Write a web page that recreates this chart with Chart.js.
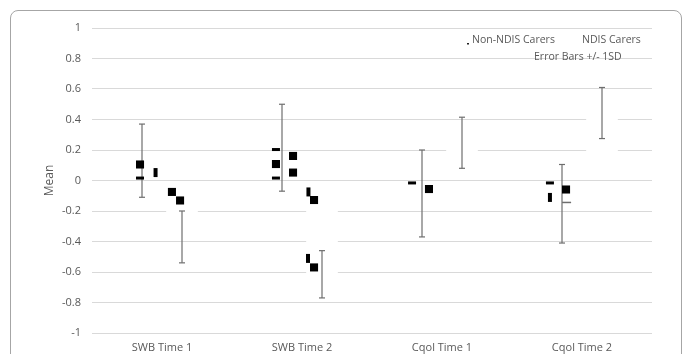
<!DOCTYPE html>
<html>
<head>
<meta charset="utf-8">
<script src="https://cdn.jsdelivr.net/npm/chart.js@4.4.1/dist/chart.umd.min.js"></script>
<style>
  body { margin: 0; background: #fff; }
  #wrap { position: relative; width: 683px; height: 354px; overflow: hidden; }
  #frame { position: absolute; left: 10px; top: 10px; width: 670px; height: 400px; border: 1px solid #a6a6a6; border-radius: 8px; }
  canvas { position: absolute; left: 0; top: 0; }
</style>
</head>
<body>
<div id="wrap"><div id="frame"></div><canvas id="myChart" width="683" height="354"></canvas></div>
<script>
// categories on the x axis
var categories = ['SWB Time 1', 'SWB Time 2', 'Cqol Time 1', 'Cqol Time 2']

// group means and SD (error bars +/- 1SD)
var nonNdisMean = [0.13, 0.215, -0.085, -0.1525]
var nonNdisSD = [0.24, 0.285, 0.285, 0.2575]
var ndisMean = [-0.37, -0.615, 0.2475, 0.4425]
var ndisSD = [0.17, 0.155, 0.1675, 0.1675]

// white marker boxes of the NDIS group (low / high)
var ndisBoxLow = [-0.3, -0.64, 0.13, 0.16]
var ndisBoxHigh = [-0.15, -0.16, 0.29, 0.45]

// black marker pieces (x in category units, y = mean value)
var squareX = [0.343, 0.571, 0.629, 1.314, 1.436, 1.436, 1.586, 1.586, 2.407, 3.386]
var squareY = [0.105, -0.075, -0.131, 0.108, 0.161, 0.052, -0.128, -0.570, -0.056, -0.059]
var dashX = [0.343, 1.314, 1.314, 2.286, 3.271]
var dashY = [0.016, 0.203, 0.016, -0.016, -0.016]
var tickX = [0.454, 1.546, 1.543, 3.271]
var tickY = [0.052, -0.075, -0.511, -0.111]
var greyX = [3.39]
var greyY = [-0.144]

var groupOffset = 1 / 7
var grey = '#595959'
var barGrey = '#6e6e6e'

function pts(xs, ys) {
  return xs.map(function (x, k) { return { x: x, y: ys[k] } })
}

var datasets = []

datasets.push({
  type: 'bar',
  data: categories.map(function (c, i) {
    return { x: i + 0.5 + groupOffset, y: [ndisBoxLow[i], ndisBoxHigh[i]] }
  }),
  backgroundColor: '#ffffff',
  borderWidth: 0,
  barThickness: 31,
  order: 3
})

categories.forEach(function (c, i) {
  [[nonNdisMean, nonNdisSD, -groupOffset], [ndisMean, ndisSD, groupOffset]].forEach(function (g) {
    var x = i + 0.5 + g[2]
    datasets.push({
      data: [{ x: x, y: g[0][i] - g[1][i] }, { x: x, y: g[0][i] + g[1][i] }],
      showLine: true,
      borderColor: barGrey,
      borderWidth: 1.2,
      pointStyle: 'line',
      pointRadius: 3,
      pointBorderColor: barGrey,
      pointBorderWidth: 1.2,
      order: 2
    })
  })
})

datasets.push({
  data: pts(squareX, squareY),
  pointStyle: 'rect',
  pointRadius: 5.7,
  pointBackgroundColor: '#000',
  pointBorderWidth: 0,
  order: 1
})
datasets.push({
  data: pts(dashX, dashY),
  pointStyle: 'line',
  pointRadius: 4,
  pointBorderColor: '#000',
  pointBorderWidth: 3,
  order: 1
})
datasets.push({
  data: pts(tickX, tickY),
  pointStyle: 'line',
  pointRotation: 90,
  pointRadius: 4.5,
  pointBorderColor: '#000',
  pointBorderWidth: 4,
  order: 1
})
datasets.push({
  data: pts(greyX, greyY),
  pointStyle: 'line',
  pointRadius: 4.5,
  pointBorderColor: barGrey,
  pointBorderWidth: 1.5,
  order: 1
})

const legendText = {
  id: 'legendText',
  afterDraw(chart) {
    const ctx = chart.ctx
    const a = chart.chartArea
    ctx.save()
    ctx.font = '10.5px "Open Sans"'
    ctx.fillStyle = grey
    ctx.textBaseline = 'middle'
    ctx.fillText('Non-NDIS Carers', a.right - 180, a.top + 12)
    ctx.fillText('NDIS Carers', a.right - 70, a.top + 12)
    ctx.fillText('Error Bars +/- 1SD', a.right - 118, a.top + 29)
    ctx.fillStyle = '#222'
    ctx.fillRect(a.right - 185, a.top + 15, 2, 1.5)
    ctx.restore()
  }
}

const ctx = document.getElementById('myChart').getContext('2d')
const myChart = new Chart(ctx, {
  type: 'scatter',
  data: { datasets: datasets },
  plugins: [legendText],
  options: {
    responsive: false,
    animation: false,
    layout: { padding: { top: 28, right: 31, left: 0, bottom: 0 } },
    plugins: { legend: { display: false }, tooltip: { enabled: false } },
    scales: {
      x: {
        type: 'linear',
        min: 0,
        max: 4,
        offset: false,
        grid: { display: false, offset: false },
        border: { display: false },
        afterBuildTicks: function (scale) {
          scale.ticks = categories.map(function (c, i) { return { value: i + 0.5 } })
        },
        afterFit: function (scale) { scale.height = 21 },
        ticks: {
          autoSkip: false,
          maxRotation: 0,
          padding: 0,
          color: grey,
          font: { family: 'Open Sans', size: 11 },
          callback: function (v, i) { return categories[i] }
        }
      },
      y: {
        min: -1,
        max: 1,
        afterFit: function (scale) { scale.width = 92 },
        grid: { color: '#d9d9d9', drawTicks: false },
        border: { display: false },
        title: {
          display: true,
          text: 'Mean',
          color: grey,
          font: { family: 'Open Sans', size: 12 },
          padding: { top: 42, bottom: 0 }
        },
        ticks: {
          stepSize: 0.2,
          padding: 11,
          color: grey,
          font: { family: 'Open Sans', size: 11 },
          callback: function (v) { return String(+v.toFixed(1)) }
        }
      }
    }
  }
})
</script>
</body>
</html>
